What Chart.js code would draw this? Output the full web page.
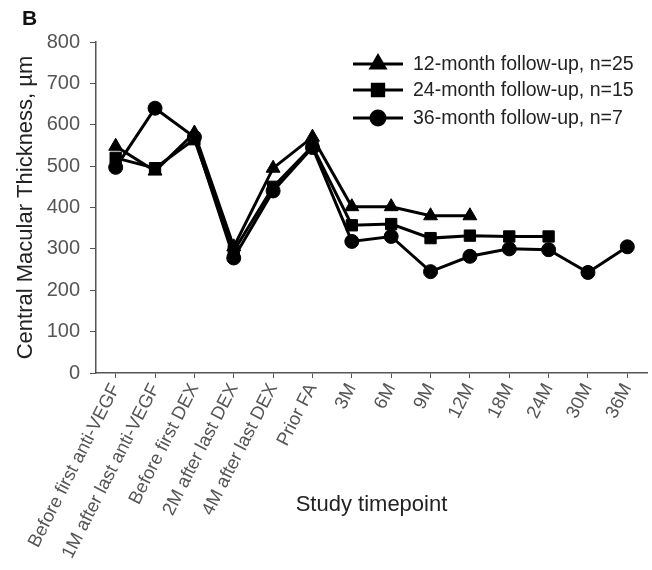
<!DOCTYPE html>
<html>
<head>
<meta charset="utf-8">
<script src="https://cdn.jsdelivr.net/npm/chart.js@4"></script>
<style>
  body { margin: 0; background: #fff; }
  #wrap { position: relative; width: 652px; height: 570px; }
  #panel { position: absolute; left: 22px; top: 6px; font: bold 21px "Liberation Sans", Arial, sans-serif; color: #111; }
</style>
</head>
<body>
<div id="wrap">
  <canvas id="chart" width="652" height="570"></canvas>
  <div id="panel">B</div>
</div>
<script>
const timepoints = ['Before first anti-VEGF', '1M after last anti-VEGF', 'Before first DEX',
  '2M after last DEX', '4M after last DEX', 'Prior FA', '3M', '6M', '9M', '12M',
  '18M', '24M', '30M', '36M'];

const followup12 = [548, 488, 580, 305, 495, 570, 402, 402, 380, 380];
const followup24 = [520, 495, 565, 295, 450, 548, 357, 360, 326, 332, 330, 330];
const followup36 = [497, 640, 570, 278, 440, 545, 318, 330, 245, 282, 300, 298, 243, 305];

const seriesNames = ['12-month follow-up, n=25', '24-month follow-up, n=15', '36-month follow-up, n=7'];

const yTicks = [0, 100, 200, 300, 400, 500, 600, 700, 800];

const ink = '#000';
const textColor = '#222';
const tickColor = '#555';
const axisColor = '#555';
const fontFamily = '"Liberation Sans", Arial, sans-serif';

function makeSet(label, values, style, radius) {
    return {
        label: label,
        data: values,
        borderColor: ink,
        backgroundColor: ink,
        borderWidth: 3,
        pointStyle: style,
        pointRadius: radius,
        pointHoverRadius: radius,
        pointBorderWidth: 1,
        tension: 0,
        fill: false,
        clip: false
    };
}

// legend drawn inside the plot, line through marker
const insideLegend = {
    id: 'insideLegend',
    afterDraw(chart) {
        const c = chart.ctx;
        const rows = [64, 90, 118];
        c.save();
        chart.data.datasets.forEach((ds, i) => {
            const y = rows[i];
            c.strokeStyle = ink;
            c.lineWidth = 3;
            c.beginPath();
            c.moveTo(353, y);
            c.lineTo(403, y);
            c.stroke();
            Chart.helpers.drawPoint(c, {pointStyle: ds.pointStyle, radius: ds.pointRadius, borderWidth: 1, rotation: 0}, 378, y);
            c.fillStyle = ink;
            c.fill();
            c.fillStyle = textColor;
            c.font = '19.5px ' + fontFamily;
            c.textBaseline = 'middle';
            c.fillText(ds.label, 413, y + 1);
        });
        c.restore();
    }
};

const data = {
    labels: timepoints,
    datasets: [
        makeSet(seriesNames[0], followup12, 'triangle', 8),
        makeSet(seriesNames[1], followup24, 'rect', 8),
        makeSet(seriesNames[2], followup36, 'circle', 7)
    ]
};

const config = {
    type: 'line',
    data: data,
    plugins: [insideLegend],
    options: {
        responsive: false,
        animation: false,
        layout: { autoPadding: false, padding: { top: 42, right: 5, left: 0, bottom: 0 } },
        plugins: {
            legend: { display: false },
            tooltip: { enabled: false }
        },
        scales: {
            x: {
                offset: true,
                grid: { drawOnChartArea: false, color: axisColor, tickLength: 5, offset: false },
                border: { color: axisColor, width: 1.5 },
                ticks: {
                    color: tickColor,
                    font: { family: fontFamily, size: 18.5 },
                    minRotation: 63,
                    maxRotation: 63,
                    autoSkip: false,
                    padding: 2
                },
                title: {
                    display: true,
                    text: 'Study timepoint',
                    color: textColor,
                    font: { family: fontFamily, size: 22 },
                    padding: { top: 0, bottom: 52 }
                },
                afterFit(scale) {
                    scale.height = 197;
                    scale.paddingRight = 0;
                }
            },
            y: {
                min: 0,
                max: 800,
                afterBuildTicks(scale) { scale.ticks = yTicks.map(v => ({ value: v })); },
                grid: { drawOnChartArea: false, color: axisColor, tickLength: 6 },
                border: { color: axisColor, width: 1.5 },
                ticks: {
                    color: tickColor,
                    font: { family: fontFamily, size: 20 },
                    padding: 10
                },
                title: {
                    display: true,
                    text: 'Central Macular Thickness, µm',
                    color: textColor,
                    font: { family: fontFamily, size: 22 },
                    padding: { top: 13, bottom: 0 }
                },
                afterFit(scale) { scale.width = 96; }
            }
        }
    }
};

const myChart = new Chart(document.getElementById('chart'), config);
</script>
</body>
</html>
